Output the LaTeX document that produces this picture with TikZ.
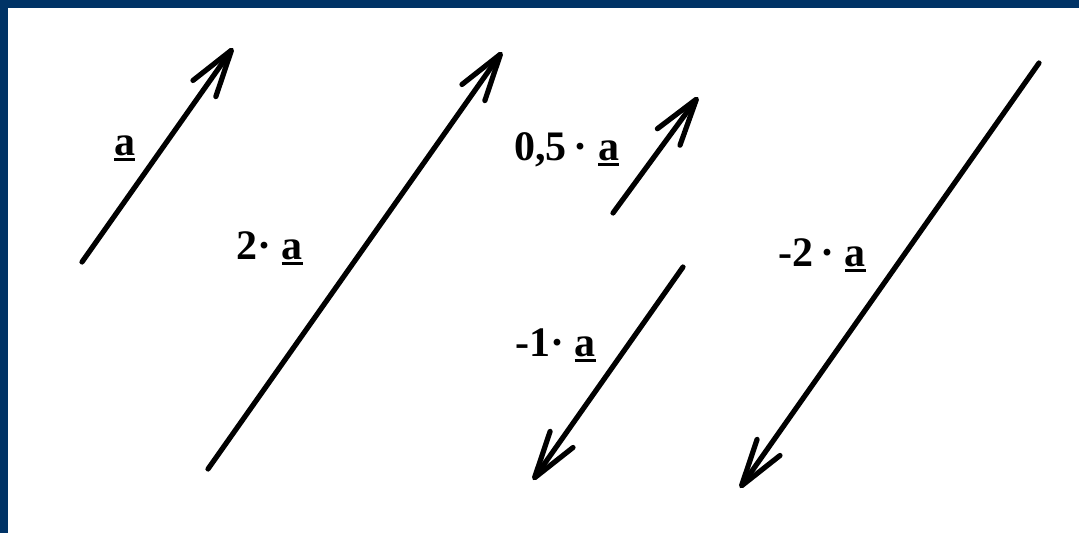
\documentclass[tikz,border=0pt]{standalone}
\usepackage{fontspec}
\setmainfont{Liberation Serif}
\usetikzlibrary{arrows.meta}
\definecolor{frameblue}{RGB}{0,51,102}
\newcommand\vname[1]{\setbox0\hbox{#1}\rlap{\rule[-6pt]{\wd0}{3pt}}\box0}

\begin{document}
\begin{tikzpicture}[x=1pt,y=-1pt,
  vec/.style={line width=5.2pt, line cap=round,
    -{Straight Barb[length=47pt,width=28pt,line width=5.2pt,round]}},
  lbl/.style={font=\fontsize{42}{44}\selectfont\bfseries, inner sep=0pt, anchor=base west}]
  \useasboundingbox (0,0) rectangle (1079,533);
  % frame on the left and top
  \fill[frameblue] (0,0) rectangle (1079,8);
  \fill[frameblue] (0,0) rectangle (8,533);

  % end points of the vectors
  \coordinate (a0) at (82,262);    \coordinate (a1) at (233,48);
  \coordinate (b0) at (208,469);   \coordinate (b1) at (502,52);
  \coordinate (c0) at (613,213);   \coordinate (c1) at (698,97);
  \coordinate (d0) at (683,267);   \coordinate (d1) at (533,480);
  \coordinate (e0) at (1039,63);   \coordinate (e1) at (740,488);

  \draw[vec] (a0) -- (a1);
  \draw[vec] (b0) -- (b1);
  \draw[vec] (c0) -- (c1);
  \draw[vec] (d0) -- (d1);
  \draw[vec] (e0) -- (e1);

  % labels
  \node[lbl] (la) at (114,155) {\vname{a}};
  \node[lbl] (lb) at (236,259) {2·\ \vname{a}};
  \node[lbl] (lc) at (514,160) {0,5\,·\ \vname{a}};
  \node[lbl] (ld) at (515,356) {-1·\ \vname{a}};
  \node[lbl] (le) at (778,266) {-2\,·\ \vname{a}};
\end{tikzpicture}
\end{document}
